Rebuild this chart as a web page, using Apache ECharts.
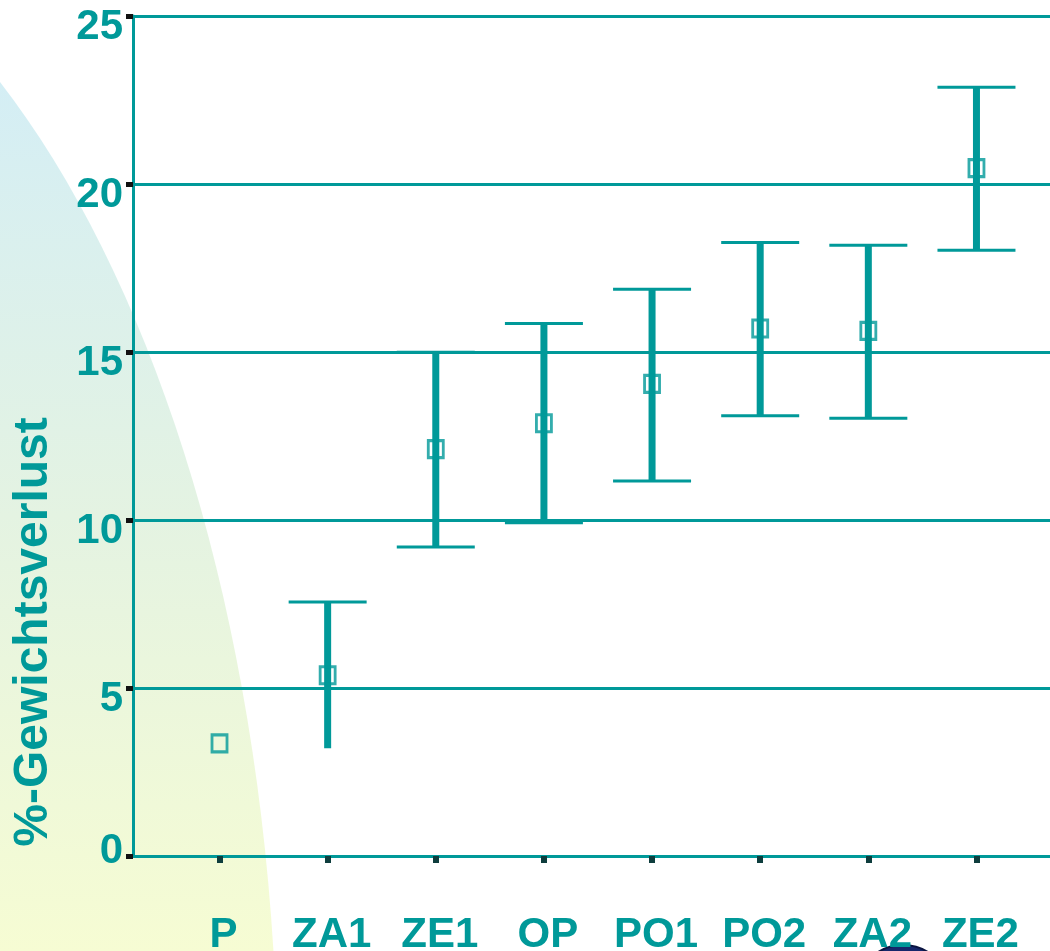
<!DOCTYPE html>
<html>
<head>
<meta charset="utf-8">
<script src="https://cdn.jsdelivr.net/npm/echarts@6/dist/echarts.min.js"></script>
<style>
  html, body { margin: 0; padding: 0; background: #ffffff; }
  #chart { width: 1050px; height: 951px; }
</style>
</head>
<body>
<div id="chart"></div>
<script>
// Weight loss (%) per group: mean with upper / lower error limits
const categories = ['P', 'ZA1', 'ZE1', 'OP', 'PO1', 'PO2', 'ZA2', 'ZE2'];
const means      = [3.35, 5.38, 12.11, 12.88, 14.05, 15.70, 15.63, 20.47];
const upperLimit = [null, 7.56, 14.99, 15.85, 16.87, 18.26, 18.18, 22.88];
const lowerLimit = [null, 3.21, 9.20, 9.92, 11.16, 13.10, 13.03, 18.03];
const lowerCap   = [false, false, true, true, true, true, true, true];
const yTicks     = [0, 5, 10, 15, 20, 25];

const TEAL = '#009999';
const FONT = '"Liberation Sans", Arial, Helvetica, sans-serif';

const positions = categories.map((c, i) => i + 1);

const errorData = [];
categories.forEach((c, i) => {
  if (upperLimit[i] != null) {
    errorData.push([positions[i], lowerLimit[i], upperLimit[i], lowerCap[i] ? 1 : 0]);
  }
});
const meanData = categories.map((c, i) => [positions[i], means[i]]);

const chart = echarts.init(document.getElementById('chart'), null, { renderer: 'canvas' });

chart.setOption({
  backgroundColor: '#ffffff',
  animation: false,
  graphic: [
    {
      type: 'ellipse',
      z: -10,
      silent: true,
      shape: { cx: -330, cy: 1100, rx: 608, ry: 1212 },
      style: {
        fill: new echarts.graphic.LinearGradient(0, 80, 0, 951, [
          { offset: 0, color: '#d4eef5' },
          { offset: 0.5, color: '#e4f3e2' },
          { offset: 1, color: '#f6fcd3' }
        ], true)
      }
    },
    {
      type: 'ellipse',
      z: -10,
      silent: true,
      shape: { cx: 903, cy: 992, rx: 47, ry: 47 },
      style: { fill: '#16276b', stroke: '#0b1440', lineWidth: 2 }
    }
  ],
  grid: { left: 133, right: 0, top: 16, bottom: 95, containLabel: false, outerBoundsMode: 'none' },
  xAxis: {
    type: 'value',
    min: 0.2,
    max: 8.68,
    splitLine: { show: false },
    axisLine: { show: true, onZero: false, lineStyle: { color: TEAL, width: 3 } },
    axisTick: {
      show: true,
      customValues: positions,
      length: 7,
      lineStyle: { color: '#0e3d3d', width: 6 }
    },
    axisLabel: {
      customValues: positions,
      formatter: v => categories[Math.round(v) - 1] || '',
      color: TEAL,
      fontFamily: FONT,
      fontWeight: 'bold',
      fontSize: 42,
      margin: 58,
      padding: [0, 0, 0, 8]
    }
  },
  yAxis: {
    type: 'value',
    min: yTicks[0],
    max: yTicks[yTicks.length - 1],
    interval: 5,
    name: '%-Gewichtsverlust',
    nameLocation: 'middle',
    nameRotate: 90,
    nameGap: 75,
    nameTextStyle: {
      color: TEAL,
      fontFamily: FONT,
      fontWeight: 'bold',
      fontSize: 48,
      padding: [0, 392, 0, 0]
    },
    axisLine: { show: true, lineStyle: { color: TEAL, width: 3 } },
    axisTick: { show: true, length: 7, lineStyle: { color: '#111111', width: 5 } },
    splitLine: { show: true, lineStyle: { color: TEAL, width: 3 } },
    axisLabel: {
      color: TEAL,
      fontFamily: FONT,
      fontWeight: 'bold',
      fontSize: 42,
      margin: 10,
      formatter: v => (v === 0 ? '{zero|0}' : '{n|' + v + '}'),
      rich: {
        n: { color: TEAL, fontFamily: FONT, fontWeight: 'bold', fontSize: 42, padding: [22, 0, 0, 0] },
        zero: { color: TEAL, fontFamily: FONT, fontWeight: 'bold', fontSize: 42, padding: [0, 0, 10, 0] }
      }
    }
  },
  series: [
    {
      type: 'custom',
      name: 'range',
      z: 3,
      data: errorData,
      renderItem: function (params, api) {
        const x = api.value(0);
        const lo = api.coord([x, api.value(1)]);
        const hi = api.coord([x, api.value(2)]);
        const half = 39;
        const children = [
          { type: 'line', shape: { x1: hi[0], y1: hi[1], x2: lo[0], y2: lo[1] },
            style: { stroke: TEAL, lineWidth: 7 } },
          { type: 'line', shape: { x1: hi[0] - half, y1: hi[1], x2: hi[0] + half, y2: hi[1] },
            style: { stroke: TEAL, lineWidth: 3 } }
        ];
        if (api.value(3)) {
          children.push({ type: 'line', shape: { x1: lo[0] - half, y1: lo[1], x2: lo[0] + half, y2: lo[1] },
            style: { stroke: TEAL, lineWidth: 3 } });
        }
        return { type: 'group', children: children };
      }
    },
    {
      type: 'scatter',
      name: 'mean',
      z: 4,
      symbol: 'rect',
      symbolSize: [15, 17],
      itemStyle: { color: 'rgba(0,0,0,0)', borderColor: TEAL, borderWidth: 3 },
      data: meanData
    }
  ]
});
</script>
</body>
</html>
